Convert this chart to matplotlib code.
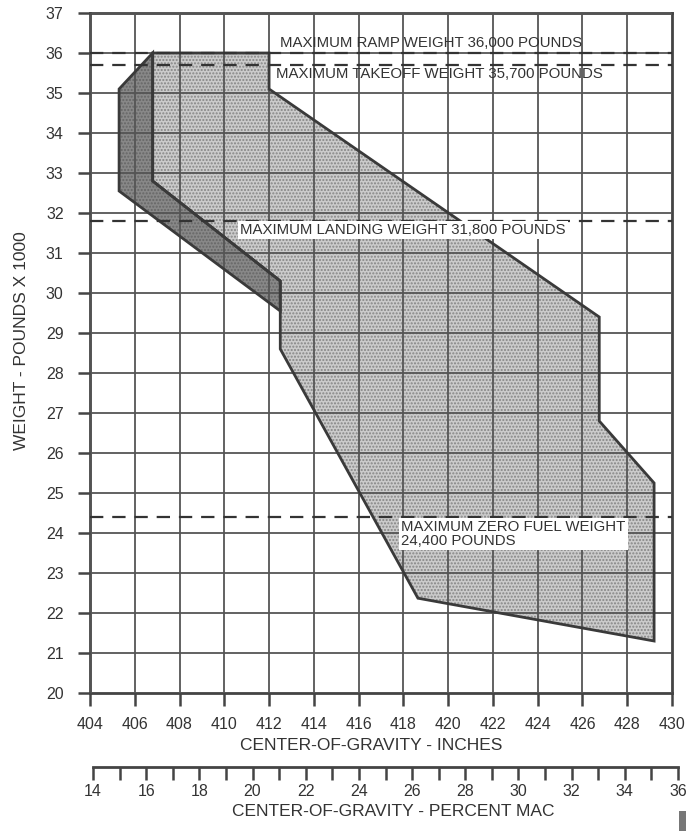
import matplotlib
matplotlib.use("Agg")
import matplotlib.pyplot as plt
from matplotlib.patches import Polygon, Rectangle

plt.rcParams['font.family'] = ['Liberation Sans', 'DejaVu Sans']

# ---- data ----
cg_inches_ticks = list(range(404, 431, 2))
weight_ticks = list(range(20, 38))
mac_ticks_major = list(range(14, 37, 2))
mac_ticks_minor = list(range(14, 37, 1))

# normal envelope (light stipple): CG inches, weight x1000
env_cg = [406.8, 412.0, 412.0, 426.75, 426.75, 429.2, 429.2, 418.65, 412.5, 412.5, 406.8]
env_wt = [36.0, 36.0, 35.1, 29.4, 26.8, 25.25, 21.3, 22.37, 28.6, 30.3, 32.8]

# extended forward envelope (dark)
fwd_cg = [405.3, 406.8, 406.8, 412.5, 412.5, 405.3]
fwd_wt = [35.1, 36.0, 32.8, 30.3, 29.55, 32.55]

limit_weights = [36.0, 35.7, 31.8, 24.4]
limit_labels = ["MAXIMUM RAMP WEIGHT 36,000 POUNDS",
                "MAXIMUM TAKEOFF WEIGHT 35,700 POUNDS",
                "MAXIMUM LANDING WEIGHT 31,800 POUNDS",
                "MAXIMUM ZERO FUEL WEIGHT\n24,400 POUNDS"]

TXT = '#333333'
GRID = '#555555'

fig = plt.figure(figsize=(6.86, 8.31), dpi=100)
W, H = 686, 831
ax = fig.add_axes([90 / W, 1 - 693 / H, (672 - 90) / W, (693 - 13) / H])
ax.set_xlim(404, 430)
ax.set_ylim(20, 37)
ax.set_xticks(cg_inches_ticks)
ax.set_yticks(weight_ticks)
ax.grid(True, color=GRID, linewidth=1.3)
ax.set_axisbelow(False)
for s in ax.spines.values():
    s.set_linewidth(2.0)
    s.set_color('#444444')
ax.tick_params(axis='both', direction='out', length=9, width=1.8, color='#444444',
               labelsize=11.5, labelcolor=TXT)
ax.tick_params(axis='y', pad=10)
ax.tick_params(axis='x', pad=8)

fig.text(371 / W, 1 - 745 / H, "CENTER-OF-GRAVITY - INCHES", fontsize=12.5, color=TXT,
         ha='center', va='center')
fig.text(22 / W, 1 - 341 / H, "WEIGHT - POUNDS X 1000", fontsize=12.5, color=TXT,
         ha='center', va='center', rotation=90)
fig.text(393 / W, 1 - 812 / H, "CENTER-OF-GRAVITY - PERCENT MAC", fontsize=12.5, color=TXT,
         ha='center', va='center')

env_pts = list(zip(env_cg, env_wt))
fwd_pts = list(zip(fwd_cg, fwd_wt))

# fills
ax.add_patch(Polygon(env_pts, closed=True, facecolor='#cbcbcb', edgecolor='none', zorder=1))
ax.add_patch(Polygon(env_pts, closed=True, fill=False, hatch='.....', edgecolor='#858585',
                     linewidth=0, zorder=1.1))
ax.add_patch(Polygon(fwd_pts, closed=True, facecolor='#888888', edgecolor='none', zorder=1))
ax.add_patch(Polygon(fwd_pts, closed=True, fill=False, hatch='.....', edgecolor='#666666',
                     linewidth=0, zorder=1.1))
# outlines
ax.add_patch(Polygon(env_pts, closed=True, fill=False, edgecolor='#3a3a3a', linewidth=2.0, zorder=3))
ax.add_patch(Polygon(fwd_pts, closed=True, fill=False, edgecolor='#3a3a3a', linewidth=2.0, zorder=3))

# limit lines
for w in limit_weights:
    ax.axhline(w, color='#333333', linewidth=1.6, linestyle=(0, (6, 4)), zorder=3.5)

fs = 10.8
ax.text(412.5, 36.15, limit_labels[0], fontsize=fs, color=TXT, ha='left', va='baseline', zorder=5)
ax.text(412.3, 35.38, limit_labels[1], fontsize=fs, color=TXT, ha='left', va='baseline', zorder=5)
ax.text(410.7, 31.47, limit_labels[2], fontsize=fs, color=TXT, ha='left', va='baseline', zorder=5,
        bbox=dict(facecolor='white', edgecolor='none', pad=1.5))
ax.text(417.9, 24.33, limit_labels[3], fontsize=fs, color=TXT, ha='left', va='top', zorder=5,
        linespacing=1.0, bbox=dict(facecolor='white', edgecolor='none', pad=1.5))

# secondary axis: percent MAC
ax2 = fig.add_axes([93 / W, 1 - 767 / H, (678 - 93) / W, 0.0001])
ax2.set_xlim(14, 36)
ax2.set_ylim(0, 1)
ax2.set_yticks([])
for k in ['top', 'left', 'right']:
    ax2.spines[k].set_visible(False)
ax2.spines['bottom'].set_linewidth(2.0)
ax2.spines['bottom'].set_color('#444444')
ax2.set_xticks(mac_ticks_major)
ax2.set_xticks(mac_ticks_minor, minor=True)
ax2.tick_params(axis='x', which='both', direction='out', length=9, width=1.8, color='#444444',
                labelsize=11.5, labelcolor=TXT, pad=3)
ax2.patch.set_visible(False)

# small scan artifact at bottom-right
fig.patches.append(Rectangle((679 / W, 1 - 831 / H), 7 / W, 20 / H, transform=fig.transFigure,
                             facecolor='#777777', edgecolor='none'))

fig.savefig("out.png", dpi=100)
